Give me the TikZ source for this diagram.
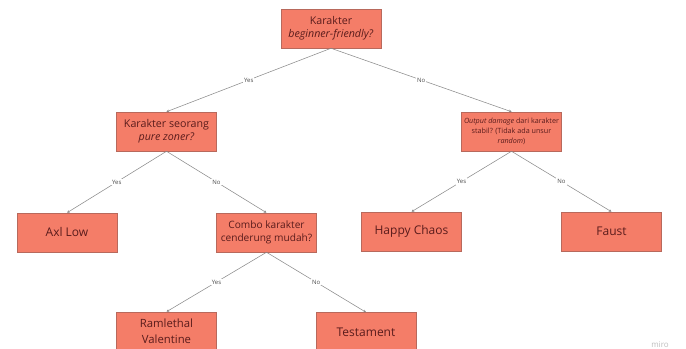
\documentclass[tikz,border=0pt]{standalone}
\usepackage{fontspec}
\setmainfont{Open Sans}
\usetikzlibrary{arrows.meta}
\definecolor{boxfill}{HTML}{F47D68}
\definecolor{boxline}{HTML}{B8695C}
\definecolor{boxtext}{HTML}{5A1C1C}
\definecolor{edgecol}{HTML}{8A8A8A}
\tikzset{
  box/.style={draw=boxline, line width=0.4pt, fill=boxfill, text=boxtext,
    minimum width=75pt, minimum height=29.25pt, inner sep=1pt, align=center},
  edge/.style={draw=edgecol, line width=0.4pt, -{Stealth[length=2pt,width=2pt]}},
  lab/.style={fill=white, inner sep=0.8pt, font=\fontsize{4.5}{5}\selectfont, text=black!70}
}
\begin{document}
\begin{tikzpicture}[x=0.75pt,y=-0.75pt]
\useasboundingbox[fill=white] (0,0) rectangle (686,349);
\node[box, font=\fontsize{8}{10}\selectfont] (top) at (331,28.5) {Karakter\\\textit{beginner-friendly?}};
\node[box, font=\fontsize{8}{10}\selectfont] (pz) at (166.5,131.5) {Karakter seorang\\\textit{pure zoner?}};
\node[box, font=\fontsize{5.4}{7.5}\selectfont] (od) at (511.5,131.5) {\textit{Output damage} dari karakter\\stabil? (Tidak ada unsur\\\textit{random})};
\node[box, font=\fontsize{9}{11}\selectfont] (axl) at (67,232.5) {Axl Low};
\node[box, font=\fontsize{7.6}{10}\selectfont] (combo) at (266.5,232.5) {Combo karakter\\cenderung mudah?};
\node[box, font=\fontsize{9}{11}\selectfont] (happy) at (411.5,231.5) {Happy Chaos};
\node[box, font=\fontsize{9}{11}\selectfont] (faust) at (611.5,231.5) {Faust};
\node[box, font=\fontsize{8.5}{12}\selectfont] (ram) at (166.5,331.5) {Ramlethal\\Valentine};
\node[box, font=\fontsize{9}{11}\selectfont] (test) at (366,332) {Testament};
\draw[edge] (top.south) -- node[lab]{Yes} (pz.north);
\draw[edge] (top.south) -- node[lab]{No} (od.north);
\draw[edge] (pz.south) -- node[lab]{Yes} (axl.north);
\draw[edge] (pz.south) -- node[lab]{No} (combo.north);
\draw[edge] (od.south) -- node[lab]{Yes} (happy.north);
\draw[edge] (od.south) -- node[lab]{No} (faust.north);
\draw[edge] (combo.south) -- node[lab]{Yes} (ram.north);
\draw[edge] (combo.south) -- node[lab]{No} (test.north);
\node[text=black!25, font=\fontsize{6}{7}\selectfont, inner sep=0pt] (miro) at (660,345) {miro};
\end{tikzpicture}
\end{document}
